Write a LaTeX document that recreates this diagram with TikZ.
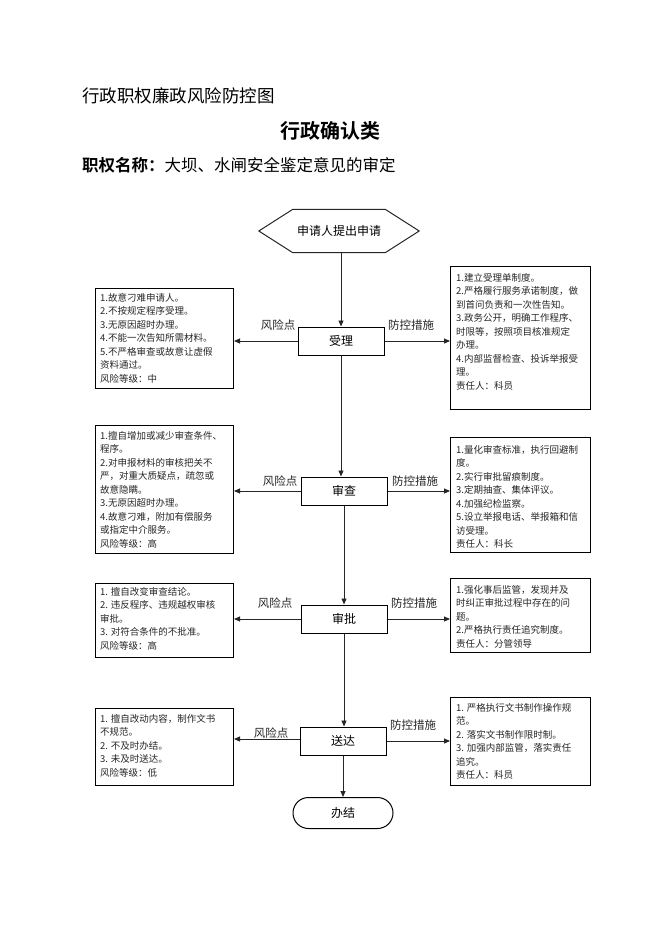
\documentclass[tikz,border=0pt]{standalone}
\usepackage{fontspec}
\setmainfont{Noto Sans CJK SC}
\newfontfamily\cjkb{Noto Sans CJK SC Bold}
\usetikzlibrary{arrows.meta,shapes.misc}
\begin{document}
\begin{tikzpicture}[x=1pt,y=-1pt,
  ln/.style={line width=0.9pt,draw=black!85},
  arr/.style={ln,-{Triangle[length=6pt,width=5pt]}},
  proc/.style={draw,line width=1pt,minimum width=86pt,minimum height=28pt,inner sep=0pt,font=\fontsize{12}{14}\selectfont},
  frame/.style={draw,line width=1pt,inner sep=0pt,anchor=north west},
  boxtext/.style={anchor=north west,inner sep=0pt,align=left,text=black!85,font=\fontsize{9.5}{13.5}\selectfont},
  lab/.style={font=\fontsize{11.5}{13}\selectfont,inner sep=0pt,text=black!85}
]
\useasboundingbox (0,0) rectangle (662,936);
% titles
\node[anchor=west,inner sep=0pt,font=\fontsize{17.5}{20}\selectfont] (t1) at (82,96) {行政职权廉政风险防控图};
\node[inner sep=0pt,font=\cjkb\fontsize{20}{22}\selectfont] (t2) at (330,131) {行政确认类};
\node[anchor=west,inner sep=0pt,font=\fontsize{16.5}{19}\selectfont] (t3) at (82,165) {{\cjkb 职权名称：}大坝、水闸安全鉴定意见的审定};

% start hexagon
\node[minimum width=160pt,minimum height=43pt,inner sep=0pt,font=\fontsize{12}{14}\selectfont] (start) at (339,231) {申请人提出申请};
\draw[ln,line width=1pt] (start.west) -- ([xshift=34pt]start.north west) -- ([xshift=-34pt]start.north east) -- (start.east) -- ([xshift=-34pt]start.south east) -- ([xshift=34pt]start.south west) -- cycle;

% process boxes
\node[proc] (sl) at (341,341) {受理};
\node[proc] (sc) at (344,491) {审查};
\node[proc] (sp) at (344,619) {审批};
\node[proc] (sd) at (343,741) {送达};
\node[draw,line width=1pt,rounded corners=15.5pt,minimum width=100pt,minimum height=31pt,inner sep=0pt,font=\fontsize{12}{14}\selectfont] (end) at (343,813) {办结};

% side frames
\node[frame,minimum width=138pt,minimum height=100pt] (L1) at (95,288) {};
\node[frame,minimum width=140pt,minimum height=143pt] (R1) at (450,266) {};
\node[frame,minimum width=138pt,minimum height=128pt] (L2) at (95,425) {};
\node[frame,minimum width=140pt,minimum height=115pt] (R2) at (450,437) {};
\node[frame,minimum width=138pt,minimum height=74pt] (L3) at (95,583) {};
\node[frame,minimum width=140pt,minimum height=74pt] (R3) at (450,578) {};
\node[frame,minimum width=138pt,minimum height=77pt] (L4) at (95,708) {};
\node[frame,minimum width=140pt,minimum height=88pt] (R4) at (450,697) {};

% frame texts
\node[boxtext] (L1t) at (100,293) {1.故意刁难申请人。\\2.不按规定程序受理。\\3.无原因超时办理。\\4.不能一次告知所需材料。\\5.不严格审查或故意让虚假\\资料通过。\\风险等级：中};
\node[boxtext] (R1t) at (456,273) {1.建立受理单制度。\\2.严格履行服务承诺制度，做\\到首问负责和一次性告知。\\3.政务公开，明确工作程序、\\时限等，按照项目核准规定\\办理。\\4.内部监督检查、投诉举报受\\理。\\责任人：科员};
\node[boxtext] (L2t) at (100,431) {1.擅自增加或减少审查条件、\\程序。\\2.对申报材料的审核把关不\\严，对重大质疑点，疏忽或\\故意隐瞒。\\3.无原因超时办理。\\4.故意刁难，附加有偿服务\\或指定中介服务。\\风险等级：高};
\node[boxtext] (R2t) at (456,445) {1.量化审查标准，执行回避制\\度。\\2.实行审批留痕制度。\\3.定期抽查、集体评议。\\4.加强纪检监察。\\5.设立举报电话、举报箱和信\\访受理。\\责任人：科长};
\node[boxtext] (L3t) at (100,587) {1. 擅自改变审查结论。\\2. 违反程序、违规越权审核\\审批。\\3. 对符合条件的不批准。\\风险等级：高};
\node[boxtext] (R3t) at (456,585) {1.强化事后监管，发现并及\\时纠正审批过程中存在的问\\题。\\2.严格执行责任追究制度。\\责任人：分管领导};
\node[boxtext] (L4t) at (100,714) {1. 擅自改动内容，制作文书\\不规范。\\2. 不及时办结。\\3. 未及时送达。\\风险等级：低};
\node[boxtext] (R4t) at (456,703) {1. 严格执行文书制作操作规\\范。\\2. 落实文书制作限时制。\\3. 加强内部监管，落实责任\\追究。\\责任人：科员};

% main flow
\draw[arr] (start.south -| sl.north) -- (sl.north);
\draw[arr] (sl.south) -- (sl.south |- sc.north);
\draw[arr] (sc.south) -- (sp.north);
\draw[arr] (sp.south) -- (sp.south |- sd.north);
\draw[arr] (sd.south) -- (end.north);

% side arrows
\draw[arr] (sl.west) -- (sl.west -| L1.east);
\draw[arr] (sl.east) -- (sl.east -| R1.west);
\draw[arr] (sc.west) -- (sc.west -| L2.east);
\draw[arr] (sc.east) -- (sc.east -| R2.west);
\draw[arr] (sp.west) -- (sp.west -| L3.east);
\draw[arr] (sp.east) -- (sp.east -| R3.west);
\draw[arr] ([yshift=2pt]sd.west) -- ([yshift=2pt]sd.west -| L4.east);
\draw[arr] (sd.east) -- (sd.east -| R4.west);

% labels
\node[lab] (k1) at (278,325) {风险点};
\node[lab] (f1) at (411,325) {防控措施};
\node[lab] (k2) at (280,481) {风险点};
\node[lab] (f2) at (415,481) {防控措施};
\node[lab] (k3) at (275,603) {风险点};
\node[lab] (f3) at (414,603) {防控措施};
\node[lab] (k4) at (271,733) {风险点};
\node[lab] (f4) at (413,725) {防控措施};
\end{tikzpicture}
\end{document}
